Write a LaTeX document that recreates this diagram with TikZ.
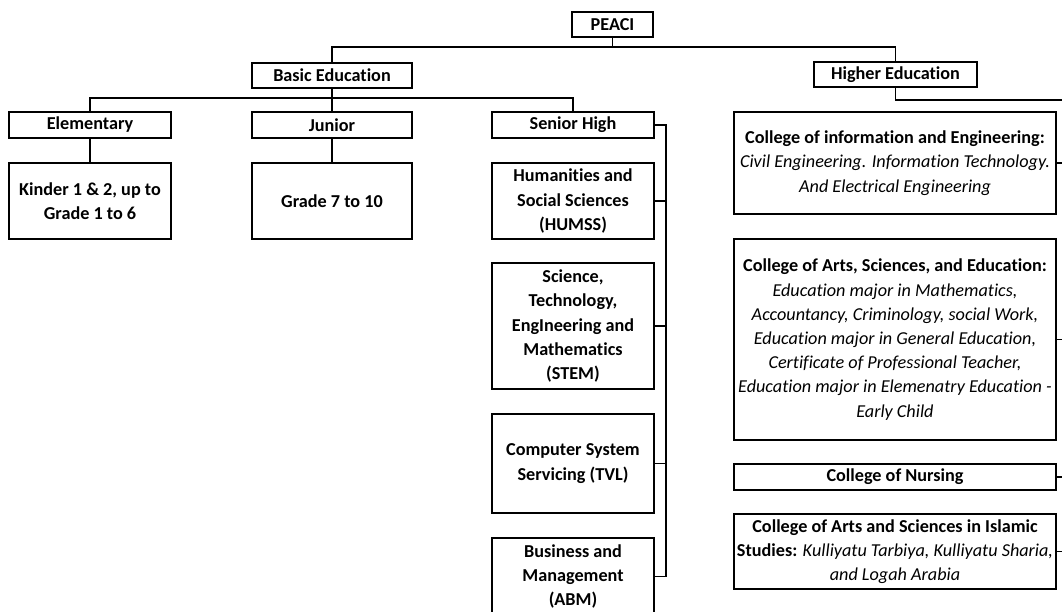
\documentclass[tikz,border=0pt]{standalone}
\usepackage{fontspec}
\setmainfont[Ligatures=NoCommon]{Carlito}
\begin{document}
\begin{tikzpicture}[x=1pt,y=-1pt,
  every node/.style={font=\fontsize{18.2}{24.2}\selectfont\bfseries},
  box/.style={draw,line width=1.7pt,inner sep=0pt,align=center,minimum height=#1},
  box/.default=25,
  conn/.style={line width=1.7pt}]
\clip (0,0) rectangle (1062,612);
\fill[white] (0,0) rectangle (1062,612);
% top
\node[box,minimum width=81] (peaci) at (612.5,24.5) {PEACI};
\node[box,minimum width=160] (basic) at (332,75.5) {Basic Education};
\node[box,minimum width=163] (higher) at (895.5,74.5) {Higher Education};
% basic level
\node[box=26,minimum width=162] (elem) at (90,125) {Elementary};
\node[box=26,minimum width=160] (junior) at (332,125) {Junior};
\node[box=26,minimum width=162] (senior) at (573,125) {Senior High};
\node[box=76,minimum width=162] (kinder) at (90,201) {Kinder 1 \& 2, up to\\Grade 1 to 6};
\node[box=76,minimum width=160] (grade) at (332,201) {Grade 7 to 10};
\node[box=76,minimum width=162] (humss) at (573,201) {Humanities and\\Social Sciences\\(HUMSS)};
\node[box=126,minimum width=162] (stem) at (573,326) {Science,\\Technology,\\EngIneering and\\Mathematics\\(STEM)};
\node[box=99,minimum width=162] (tvl) at (573,463.5) {Computer System\\Servicing (TVL)};
\node[box=77,minimum width=162] (abm) at (573,576.5) {Business and\\Management\\(ABM)};
% higher
\node[box=102,minimum width=322] (info) at (895,163) {College of information and Engineering:\\
  \normalfont\itshape Civil Engineering. Information Technology.\\\normalfont\itshape And Electrical Engineering};
\node[box=201,minimum width=322] (arts) at (895,339.5) {College of Arts, Sciences, and Education:\\
  \normalfont\itshape Education major in Mathematics,\\
  \normalfont\itshape Accountancy, Criminology, social Work,\\
  \normalfont\itshape Education major in General Education,\\
  \normalfont\itshape Certificate of Professional Teacher,\\
  \normalfont\itshape Education major in Elemenatry Education -\\
  \normalfont\itshape Early Child};
\node[box=26,minimum width=322] (nursing) at (895,477) {College of Nursing};
\node[box=75,minimum width=322] (islamic) at (895,551.5) {College of Arts and Sciences in Islamic\\
  Studies: {\normalfont\itshape Kulliyatu Tarbiya, Kulliyatu Sharia,}\\
  \normalfont\itshape and Logah Arabia};
% connectors
\coordinate (hub) at (612.5,47);
\coordinate (bhub) at (332,98);
\coordinate (rside) at (1064,100);
\draw[conn] (peaci.south) -- (hub);
\draw[conn] (basic.north) |- (hub) -| (higher.north);
\draw[conn] (basic.south) -- (junior.north);
\draw[conn] (elem.north) |- (bhub) -| (senior.north);
\draw[conn] (elem.south) -- (kinder.north);
\draw[conn] (junior.south) -- (grade.north);
\draw[conn] (senior.east) -- ++(11,0) |- (abm.east);
\draw[conn] (humss.east) -- ++(11,0);
\draw[conn] (stem.east) -- ++(11,0);
\draw[conn] (tvl.east) -- ++(11,0);
\draw[conn] (higher.south) |- (rside) -- ++(0,520);
\draw[conn] (info.east) -- ++(8,0);
\draw[conn] (arts.east) -- ++(8,0);
\draw[conn] (nursing.east) -- ++(8,0);
\draw[conn] (islamic.east) -- ++(8,0);
\end{tikzpicture}
\end{document}
